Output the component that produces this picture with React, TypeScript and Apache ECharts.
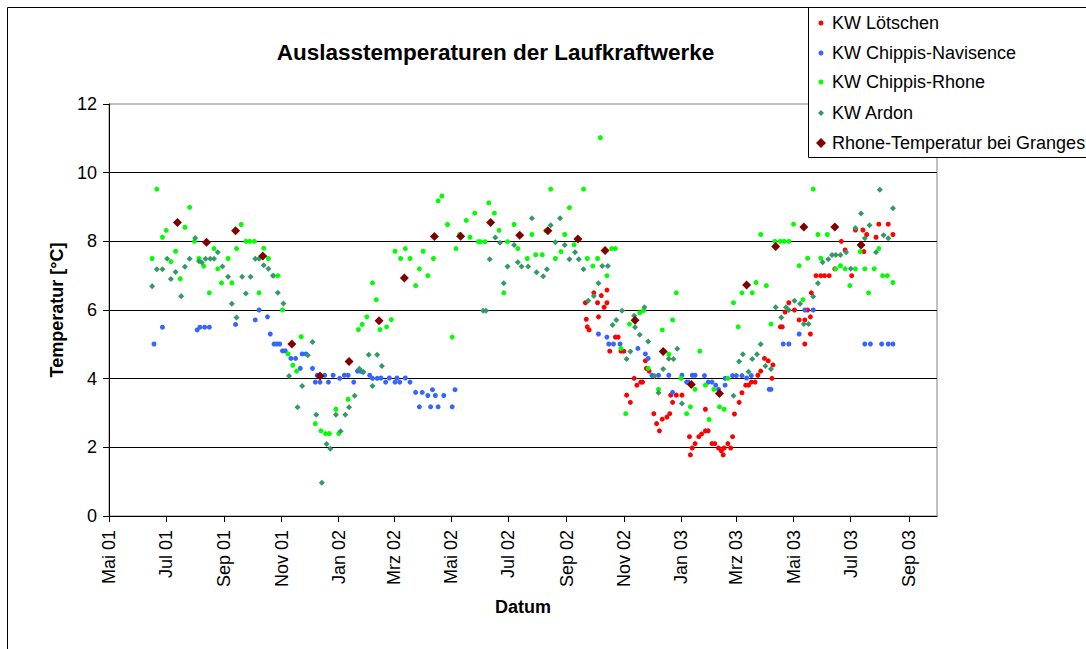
import React, { useEffect, useRef } from "react";
import * as echarts from "echarts";

const FONT = '"Liberation Sans", Arial, sans-serif';
const titleText = "Auslasstemperaturen der Laufkraftwerke";
const xAxisName = "Datum";
const yAxisName = "Temperatur [°C]";
const seriesNames = ["KW Lötschen", "KW Chippis-Navisence", "KW Chippis-Rhone", "KW Ardon", "Rhone-Temperatur bei Granges"];
const seriesColors = ["#FF0000", "#3366FF", "#00FF00", "#339966", "#800000"];

const axisStart = "2001-05-01";
const axisEnd = "2003-10-01";
const tickDates = ["2001-05-01", "2001-07-01", "2001-09-01", "2001-11-01", "2002-01-01", "2002-03-01", "2002-05-01", "2002-07-01", "2002-09-01", "2002-11-01", "2003-01-01", "2003-03-01", "2003-05-01", "2003-07-01", "2003-09-01"];
const tickLabels = ["Mai 01", "Jul 01", "Sep 01", "Nov 01", "Jan 02", "Mrz 02", "Mai 02", "Jul 02", "Sep 02", "Nov 02", "Jan 03", "Mrz 03", "Mai 03", "Jul 03", "Sep 03"];
const yMin = 0;
const yMax = 12;
const yStep = 2;

const loetschen: [string, number][] = [
  ["2002-09-21", 6.21], ["2002-09-22", 5.73], ["2002-09-23", 5.51], ["2002-09-25", 5.42], ["2002-09-30", 6.5],
  ["2002-10-04", 6.21], ["2002-10-05", 5.8], ["2002-10-08", 6.42], ["2002-10-11", 6.08], ["2002-10-14", 6.58],
  ["2002-10-14", 6.21], ["2002-10-17", 4.8], ["2002-10-23", 5.21], ["2002-10-26", 5.21], ["2002-10-29", 4.8],
  ["2002-11-01", 4.8], ["2002-11-04", 3.52], ["2002-11-08", 3.31], ["2002-11-12", 4.01], ["2002-11-15", 3.81],
  ["2002-11-19", 3.9], ["2002-11-21", 3.9], ["2002-11-24", 4.52], ["2002-11-25", 4.3], ["2002-11-28", 4.22],
  ["2002-12-03", 2.98], ["2002-12-06", 2.69], ["2002-12-09", 2.48], ["2002-12-12", 2.82], ["2002-12-17", 2.88],
  ["2002-12-20", 2.98], ["2002-12-21", 3.52], ["2002-12-23", 3.31], ["2002-12-27", 3.52], ["2003-01-02", 3.52],
  ["2003-01-10", 2.31], ["2003-01-11", 1.78], ["2003-01-13", 1.98], ["2003-01-16", 2.11], ["2003-01-20", 2.31],
  ["2003-01-23", 2.39], ["2003-01-27", 2.48], ["2003-01-27", 3.11], ["2003-01-30", 2.48], ["2003-02-03", 2.11],
  ["2003-02-06", 2.11], ["2003-02-10", 1.98], ["2003-02-13", 1.9], ["2003-02-15", 1.78], ["2003-02-16", 1.98],
  ["2003-02-20", 2.11], ["2003-02-23", 1.98], ["2003-02-25", 2.31], ["2003-02-27", 2.97], ["2003-03-04", 3.31],
  ["2003-03-07", 3.59], ["2003-03-11", 3.81], ["2003-03-14", 3.81], ["2003-03-17", 3.9], ["2003-03-21", 3.9],
  ["2003-03-24", 4.1], ["2003-03-27", 4.22], ["2003-03-31", 4.59], ["2003-04-04", 4.52], ["2003-04-08", 4.01],
  ["2003-04-09", 4.4], ["2003-04-17", 5.51], ["2003-04-19", 5.51], ["2003-04-22", 5.94], ["2003-04-26", 6.21],
  ["2003-05-02", 6.0], ["2003-05-07", 5.71], ["2003-05-13", 5.71], ["2003-05-13", 5.01], ["2003-05-16", 6.0],
  ["2003-05-19", 5.8], ["2003-05-19", 5.3], ["2003-05-20", 6.5], ["2003-05-25", 7.0], ["2003-05-30", 7.0],
  ["2003-06-03", 7.0], ["2003-06-08", 7.0], ["2003-06-14", 7.2], ["2003-06-21", 8.0], ["2003-06-25", 7.75],
  ["2003-07-02", 7.0], ["2003-07-06", 8.33], ["2003-07-14", 8.33], ["2003-07-15", 7.7], ["2003-07-18", 8.2],
  ["2003-07-28", 8.12], ["2003-07-31", 8.5], ["2003-08-10", 8.5], ["2003-08-15", 8.2],
];

const navisence: [string, number][] = [
  ["2001-06-18", 5.01], ["2001-06-27", 5.5], ["2001-08-03", 5.42], ["2001-08-06", 5.5], ["2001-08-11", 5.5],
  ["2001-08-16", 5.5], ["2001-09-13", 5.58], ["2001-10-04", 5.71], ["2001-10-08", 6.0], ["2001-10-17", 5.8],
  ["2001-10-20", 5.3], ["2001-10-24", 5.01], ["2001-10-27", 5.01], ["2001-10-30", 5.01], ["2001-11-02", 4.81],
  ["2001-11-05", 4.81], ["2001-11-11", 4.59], ["2001-11-16", 4.59], ["2001-11-21", 4.3], ["2001-11-23", 4.72],
  ["2001-11-27", 4.72], ["2001-12-04", 4.3], ["2001-12-07", 3.9], ["2001-12-09", 4.1], ["2001-12-12", 4.1],
  ["2001-12-12", 3.9], ["2001-12-17", 4.1], ["2001-12-21", 3.9], ["2001-12-26", 4.1], ["2002-01-02", 4.01],
  ["2002-01-07", 4.1], ["2002-01-11", 4.1], ["2002-01-17", 3.9], ["2002-01-21", 4.22], ["2002-01-24", 4.22],
  ["2002-01-27", 4.19], ["2002-02-03", 4.1], ["2002-02-06", 4.01], ["2002-02-11", 4.01], ["2002-02-15", 4.02],
  ["2002-02-20", 3.9], ["2002-02-24", 4.02], ["2002-03-02", 3.9], ["2002-03-04", 4.02], ["2002-03-07", 3.9],
  ["2002-03-13", 4.02], ["2002-03-18", 3.9], ["2002-03-24", 3.6], ["2002-03-28", 3.18], ["2002-03-31", 3.6],
  ["2002-04-06", 3.51], ["2002-04-09", 3.18], ["2002-04-11", 3.68], ["2002-04-14", 3.51], ["2002-04-17", 3.18],
  ["2002-04-23", 3.51], ["2002-05-02", 3.18], ["2002-05-05", 3.68],
  ["2002-10-05", 5.3], ["2002-10-14", 5.21], ["2002-10-16", 5.01], ["2002-10-21", 5.01], ["2002-10-28", 5.01],
  ["2002-11-16", 4.88], ["2002-11-24", 4.72], ["2002-11-27", 4.59], ["2002-12-01", 4.1], ["2002-12-08", 4.1],
  ["2002-12-19", 4.1], ["2002-12-23", 3.6], ["2003-01-02", 4.1], ["2003-01-07", 3.9], ["2003-01-09", 3.9],
  ["2003-01-13", 4.1], ["2003-01-16", 4.1], ["2003-01-26", 4.09], ["2003-01-30", 3.9], ["2003-02-03", 3.9],
  ["2003-02-07", 3.81], ["2003-02-10", 3.69], ["2003-02-17", 3.81], ["2003-02-17", 4.01], ["2003-02-25", 4.09],
  ["2003-03-01", 4.09], ["2003-03-07", 4.09], ["2003-03-12", 4.02], ["2003-03-17", 4.09], ["2003-04-05", 3.69],
  ["2003-04-07", 3.69], ["2003-04-20", 5.01], ["2003-04-26", 5.01], ["2003-05-07", 5.3], ["2003-05-13", 6.0],
  ["2003-05-22", 6.0], ["2003-07-16", 5.01], ["2003-07-22", 5.01], ["2003-08-03", 5.01], ["2003-08-10", 5.01],
  ["2003-08-15", 5.01],
];

const chippisRhone: [string, number][] = [
  ["2001-06-16", 7.5], ["2001-06-21", 9.52], ["2001-06-27", 8.12], ["2001-07-01", 8.32], ["2001-07-06", 7.41],
  ["2001-07-11", 7.71], ["2001-07-16", 6.91], ["2001-07-21", 8.41], ["2001-07-26", 8.99], ["2001-07-31", 8.0],
  ["2001-08-05", 7.5], ["2001-08-10", 7.28], ["2001-08-16", 6.5], ["2001-08-21", 7.79], ["2001-08-25", 7.2],
  ["2001-08-29", 6.79], ["2001-09-05", 7.5], ["2001-09-09", 6.79], ["2001-09-14", 7.79], ["2001-09-19", 8.49],
  ["2001-09-24", 8.0], ["2001-09-28", 8.0], ["2001-10-03", 8.0], ["2001-10-08", 6.5], ["2001-10-13", 7.8],
  ["2001-10-18", 7.5], ["2001-10-23", 7.0], ["2001-10-28", 7.0],
  ["2001-11-02", 6.0], ["2001-11-08", 4.72], ["2001-11-13", 4.39], ["2001-11-17", 4.22], ["2001-11-22", 5.22],
  ["2001-12-07", 2.69], ["2001-12-13", 2.48], ["2001-12-18", 2.4], ["2001-12-22", 2.4], ["2001-12-29", 3.11],
  ["2002-01-01", 2.4], ["2002-01-11", 3.4], ["2002-01-22", 5.43], ["2002-01-26", 5.58], ["2002-01-31", 5.8],
  ["2002-02-06", 6.79], ["2002-02-10", 6.3], ["2002-02-14", 5.43], ["2002-02-21", 5.51], ["2002-02-26", 5.72],
  ["2002-03-02", 7.71], ["2002-03-08", 7.5], ["2002-03-13", 7.79], ["2002-03-18", 7.5], ["2002-03-24", 6.71],
  ["2002-03-28", 7.2], ["2002-04-01", 7.71], ["2002-04-06", 7.0], ["2002-04-12", 7.5], ["2002-04-17", 9.18],
  ["2002-04-21", 9.32], ["2002-04-27", 8.49], ["2002-05-02", 5.21], ["2002-05-06", 7.79], ["2002-05-10", 8.2],
  ["2002-05-17", 8.61], ["2002-05-21", 8.12], ["2002-05-26", 8.82], ["2002-05-30", 7.99], ["2002-06-01", 7.99],
  ["2002-06-06", 7.99], ["2002-06-10", 9.12], ["2002-06-16", 8.82], ["2002-06-21", 8.32], ["2002-06-26", 6.5],
  ["2002-06-30", 7.99], ["2002-07-07", 8.49], ["2002-07-11", 7.79], ["2002-07-21", 7.5], ["2002-07-26", 8.2],
  ["2002-07-30", 7.61], ["2002-08-06", 7.61], ["2002-08-10", 8.31], ["2002-08-15", 9.52], ["2002-08-20", 7.5],
  ["2002-08-26", 7.7], ["2002-08-30", 8.2], ["2002-09-04", 8.98], ["2002-09-09", 7.9], ["2002-09-19", 9.52],
  ["2002-09-23", 7.5], ["2002-09-29", 7.28], ["2002-10-04", 7.5], ["2002-10-07", 11.02], ["2002-10-14", 7.0],
  ["2002-10-19", 7.79], ["2002-10-23", 7.79], ["2002-10-29", 4.88], ["2002-11-03", 2.98], ["2002-11-07", 5.59],
  ["2002-11-18", 5.92], ["2002-11-22", 5.98], ["2002-11-27", 4.3], ["2002-12-08", 3.69], ["2002-12-12", 5.42],
  ["2002-12-19", 4.71], ["2002-12-23", 5.71], ["2002-12-27", 6.5], ["2003-01-01", 4.01], ["2003-01-07", 2.98],
  ["2003-01-11", 3.18], ["2003-01-16", 3.69], ["2003-01-21", 4.8], ["2003-01-27", 3.81], ["2003-01-31", 2.81],
  ["2003-02-05", 3.69], ["2003-02-11", 3.18], ["2003-02-16", 3.11], ["2003-02-20", 4.01], ["2003-02-26", 6.21],
  ["2003-03-03", 5.51], ["2003-03-07", 6.5], ["2003-03-18", 6.5], ["2003-03-22", 6.8], ["2003-03-27", 8.2],
  ["2003-04-02", 6.71], ["2003-04-07", 5.59], ["2003-04-11", 8.0], ["2003-04-17", 8.0], ["2003-04-21", 8.0],
  ["2003-04-26", 8.0], ["2003-05-01", 8.5], ["2003-05-07", 7.29], ["2003-05-11", 6.3], ["2003-05-16", 7.51],
  ["2003-05-22", 9.52], ["2003-05-27", 8.2], ["2003-05-30", 7.51], ["2003-06-06", 8.2], ["2003-06-15", 7.2],
  ["2003-06-20", 7.29], ["2003-06-25", 7.2], ["2003-06-30", 6.71], ["2003-07-06", 7.2], ["2003-07-11", 7.7],
  ["2003-07-16", 7.2], ["2003-07-20", 6.5], ["2003-07-26", 7.2], ["2003-07-31", 7.79], ["2003-08-04", 7.0],
  ["2003-08-09", 7.0], ["2003-08-15", 6.8],
];

const ardon: [string, number][] = [
  ["2001-06-16", 6.69], ["2001-06-21", 7.19], ["2001-06-27", 7.19], ["2001-07-02", 7.49], ["2001-07-06", 6.9],
  ["2001-07-11", 7.11], ["2001-07-17", 6.4], ["2001-07-21", 7.26], ["2001-07-26", 7.49], ["2001-08-01", 8.1],
  ["2001-08-05", 7.42], ["2001-08-08", 7.38], ["2001-08-12", 7.49], ["2001-08-17", 7.49], ["2001-08-21", 7.49],
  ["2001-08-25", 7.68], ["2001-08-30", 7.27], ["2001-09-05", 6.97], ["2001-09-09", 6.18], ["2001-09-14", 5.78],
  ["2001-09-20", 6.97], ["2001-09-24", 6.48], ["2001-09-29", 6.97], ["2001-10-04", 7.49], ["2001-10-08", 7.49],
  ["2001-10-13", 7.3], ["2001-10-18", 7.2], ["2001-10-23", 7.0], ["2001-10-28", 6.5],
  ["2001-11-03", 6.19], ["2001-11-09", 4.08], ["2001-11-18", 3.17], ["2001-11-23", 3.79], ["2001-11-29", 4.68],
  ["2001-12-04", 5.07], ["2001-12-08", 2.95], ["2001-12-14", 0.97], ["2001-12-19", 2.1], ["2001-12-23", 1.96],
  ["2001-12-29", 2.95], ["2002-01-03", 2.47], ["2002-01-08", 2.95], ["2002-01-12", 3.17], ["2002-01-18", 3.5],
  ["2002-01-23", 4.29], ["2002-01-27", 4.2], ["2002-02-02", 4.7], ["2002-02-06", 3.79], ["2002-02-11", 4.7],
  ["2002-02-16", 4.37],
  ["2002-06-04", 5.98], ["2002-06-07", 5.98], ["2002-06-11", 7.48], ["2002-06-17", 8.11], ["2002-06-22", 7.96],
  ["2002-06-26", 6.78], ["2002-06-30", 7.27], ["2002-07-07", 7.89], ["2002-07-11", 7.39], ["2002-07-15", 7.27],
  ["2002-07-22", 7.27], ["2002-07-26", 8.67], ["2002-07-31", 7.1], ["2002-08-07", 6.98], ["2002-08-11", 7.19],
  ["2002-08-15", 8.47], ["2002-08-20", 7.97], ["2002-08-25", 8.67], ["2002-08-30", 7.89], ["2002-09-04", 7.48],
  ["2002-09-10", 7.68], ["2002-09-14", 7.48], ["2002-09-19", 7.19], ["2002-09-24", 6.27], ["2002-09-30", 6.41],
  ["2002-10-05", 6.78], ["2002-10-09", 7.28], ["2002-10-15", 7.28], ["2002-10-20", 5.56], ["2002-10-24", 5.71],
  ["2002-10-30", 5.98], ["2002-11-04", 4.57], ["2002-11-08", 4.79], ["2002-11-12", 5.83], ["2002-11-13", 5.5],
  ["2002-11-18", 5.28], ["2002-11-23", 6.08], ["2002-11-27", 5.08], ["2002-12-04", 4.08], ["2002-12-08", 3.59],
  ["2002-12-13", 4.28], ["2002-12-19", 4.58], ["2002-12-24", 4.57], ["2002-12-28", 4.87], ["2003-01-02", 3.28],
  ["2003-02-26", 3.5], ["2003-03-04", 4.5], ["2003-03-08", 4.71], ["2003-03-14", 4.2], ["2003-03-18", 4.57],
  ["2003-03-23", 4.71], ["2003-03-27", 5.0], ["2003-04-01", 4.37], ["2003-04-07", 4.28], ["2003-04-12", 6.08],
  ["2003-04-18", 5.78], ["2003-04-23", 6.08], ["2003-04-26", 6.0], ["2003-05-02", 6.27], ["2003-05-08", 6.18],
  ["2003-05-12", 5.59], ["2003-05-17", 5.59], ["2003-05-22", 6.39], ["2003-05-27", 6.78], ["2003-06-01", 7.39],
  ["2003-06-07", 7.48], ["2003-06-11", 7.6], ["2003-06-15", 7.6], ["2003-06-20", 7.6], ["2003-06-26", 7.68],
  ["2003-07-01", 7.2], ["2003-07-06", 8.39], ["2003-07-12", 8.81], ["2003-07-16", 8.09], ["2003-07-21", 8.47],
  ["2003-07-28", 7.68], ["2003-08-01", 9.5], ["2003-08-05", 8.18], ["2003-08-10", 8.09], ["2003-08-15", 8.96],
];

const granges: [string, number][] = [
  ["2001-07-13", 8.55], ["2001-08-13", 7.97], ["2001-09-13", 8.31], ["2001-10-12", 7.57], ["2001-11-12", 5.01],
  ["2001-12-12", 4.08], ["2002-01-12", 4.5], ["2002-02-13", 5.69], ["2002-03-12", 6.93], ["2002-04-13", 8.14],
  ["2002-05-11", 8.15], ["2002-06-12", 8.55], ["2002-07-13", 8.18], ["2002-08-12", 8.31], ["2002-09-13", 8.07],
  ["2002-10-12", 7.73], ["2002-11-13", 5.7], ["2002-12-13", 4.79], ["2003-01-12", 3.83], ["2003-02-11", 3.57],
  ["2003-03-12", 6.73], ["2003-04-12", 7.85], ["2003-05-12", 8.42], ["2003-06-14", 8.42], ["2003-07-12", 7.89],
];

const dayOf = (s: string): number => {
  const [y, m, d] = s.split("-").map(Number);
  const [y0, m0, d0] = axisStart.split("-").map(Number);
  return Math.round((Date.UTC(y, m - 1, d) - Date.UTC(y0, m0 - 1, d0)) / 86400000);
};

export default function App() {
  const ref = useRef<HTMLDivElement>(null);

  useEffect(() => {
    if (!ref.current) return;
    const chart = echarts.init(ref.current, undefined, { renderer: "svg" });

    const tickValues = tickDates.map(dayOf);
    const labelMap: Record<number, string> = {};
    tickValues.forEach((v, i) => (labelMap[v] = tickLabels[i]));

    const allSeries = [loetschen, navisence, chippisRhone, ardon, granges];
    const symbols = ["circle", "circle", "circle", "diamond", "diamond"];
    const sizes: (number | number[])[] = [5, 5, 5, 6, 9];

    const legendY = [23, 53, 82, 113, 143];
    const legendChildren: any[] = [
      {
        type: "rect",
        shape: { x: 808.5, y: 7.5, width: 300, height: 150 },
        style: { fill: "#fff", stroke: "#000", lineWidth: 1 },
      },
    ];
    seriesNames.forEach((name, i) => {
      const cy = legendY[i];
      const cx = 821;
      if (symbols[i] === "circle") {
        legendChildren.push({ type: "circle", shape: { cx, cy, r: 2.5 }, style: { fill: seriesColors[i] } });
      } else {
        const h = i === 4 ? 5 : 3;
        legendChildren.push({
          type: "polygon",
          shape: { points: [[cx, cy - h], [cx + h, cy], [cx, cy + h], [cx - h, cy]] },
          style: { fill: seriesColors[i] },
        });
      }
      legendChildren.push({
        type: "text",
        x: 832,
        y: cy,
        style: { text: name, font: `18px ${FONT}`, fill: "#000", verticalAlign: "middle", align: "left" },
      });
    });

    chart.setOption({
      animation: false,
      backgroundColor: "#fff",
      textStyle: { fontFamily: FONT },
      grid: { left: 109, top: 104, right: 149, bottom: 133, show: true, borderColor: "#808080", borderWidth: 1, backgroundColor: "#fff" },
      xAxis: {
        type: "value",
        min: dayOf(axisStart),
        max: dayOf(axisEnd),
        name: xAxisName,
        nameLocation: "middle",
        nameGap: 82,
        nameTextStyle: { fontWeight: "bold", fontSize: 18, color: "#000", fontFamily: FONT },
        axisLine: { show: true, lineStyle: { color: "#000", width: 1 } },
        axisTick: { show: true, length: 6, lineStyle: { color: "#000" }, customValues: tickValues },
        axisLabel: {
          customValues: tickValues,
          rotate: 90,
          margin: 14,
          fontSize: 18,
          color: "#000",
          fontFamily: FONT,
          formatter: (v: number) => labelMap[Math.round(v)] ?? "",
        },
        splitLine: { show: false },
      },
      yAxis: {
        type: "value",
        min: yMin,
        max: yMax,
        interval: yStep,
        name: yAxisName,
        nameLocation: "middle",
        nameGap: 42,
        nameTextStyle: { fontWeight: "bold", fontSize: 18, color: "#000", fontFamily: FONT },
        axisLine: { show: true, lineStyle: { color: "#000", width: 1 } },
        axisTick: { show: true, length: 6, lineStyle: { color: "#000" } },
        axisLabel: { fontSize: 18, color: "#000", margin: 12, fontFamily: FONT },
        splitLine: { show: true, showMaxLine: false, lineStyle: { color: "#000", width: 1 } },
      },
      series: allSeries.map((data, i) => ({
        name: seriesNames[i],
        type: "scatter",
        symbol: symbols[i],
        symbolSize: sizes[i],
        itemStyle: { color: seriesColors[i], opacity: 1 },
        data: data.map(([d, v]) => [dayOf(d), v]),
        z: 2 + i,
      })),
      graphic: [
        {
          type: "rect",
          z: -10,
          silent: true,
          shape: { x: 7.5, y: 7.5, width: 1200, height: 800 },
          style: { fill: "transparent", stroke: "#000", lineWidth: 1 },
        },
        {
          type: "text",
          x: 495.5,
          y: 52,
          style: { text: titleText, font: `bold 22.5px ${FONT}`, fill: "#000", align: "center", verticalAlign: "middle" },
        },
        { type: "group", z: 100, children: legendChildren },
      ],
    });

    return () => chart.dispose();
  }, []);

  return <div ref={ref} style={{ position: "absolute", left: 0, top: 0, width: 1086, height: 649 }} />;
}
